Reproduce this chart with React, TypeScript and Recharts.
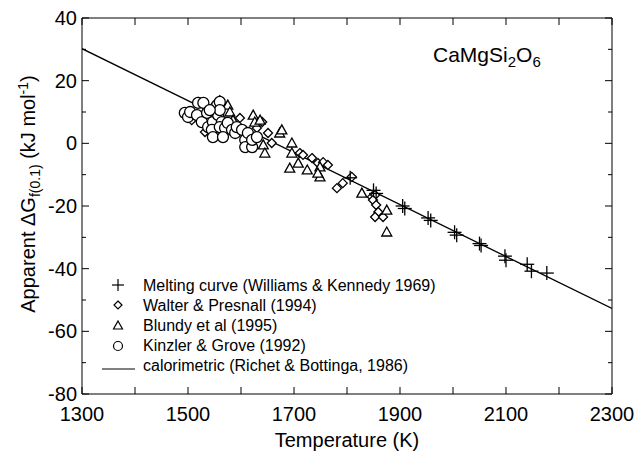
import React from 'react';
import { ScatterChart, Scatter, XAxis, YAxis, Legend, Customized } from 'recharts';

// [temperature K, apparent dG kJ/mol]
const meltingCurve = [
  [1806, -11], [1850, -15], [1855, -16], [1905, -20], [1909, -20.8],
  [1953, -23.8], [1958, -24.6], [2003, -28.4], [2007, -29.3], [2050, -32],
  [2053, -32.6], [2098, -36], [2100, -37.3], [2140, -38.6], [2148, -40.8], [2177, -41.4],
];

const walterPresnall = [
  [1519, 13.2], [1507, 7.4], [1532, 3.6], [1560, 13.8], [1547, 11.6], [1598, 8.1],
  [1630, 4.9], [1640, 6.8], [1651, 3.3], [1658, 0.1], [1711, -3.1], [1717, -3.7],
  [1734, -4.7], [1745, -6.3], [1755, -6], [1764, -6.9], [1781, -14.3], [1792, -12.7],
  [1809, -10.7], [1847, -17.1], [1853, -16.5], [1849, -18.1], [1855, -19.7],
  [1859, -21.9], [1853, -23.5], [1868, -23.5],
];

const blundy = [
  [1575, 12.2], [1579, 10], [1585, 7.4], [1623, 9], [1626, 6.8], [1636, 7.4],
  [1642, -0.5], [1645, -3.1], [1673, 3.3], [1677, 4.3], [1696, 0.1], [1696, -3.1],
  [1692, -7.9], [1708, -6.3], [1725, -8.5], [1749, -7.5], [1749, -10.7], [1745, -9.5],
  [1828, -15.9], [1875, -21.3], [1875, -28.3],
];

const kinzlerGrove = [
  [1494, 9.7], [1500, 8.4], [1504, 10], [1519, 12.9], [1529, 12.9], [1517, 9],
  [1526, 6.8], [1536, 9.7], [1538, 5.2], [1547, 6.8], [1545, 4.3], [1555, 12.2],
  [1560, 13.2], [1557, 9], [1564, 6.8], [1560, 5.2], [1570, 4.9], [1575, 6.5],
  [1583, 4.3], [1589, 3.3], [1547, 2], [1566, 2], [1592, 5.2], [1602, 4.3],
  [1608, 1.1], [1613, 3.3], [1608, -1.2], [1621, -1.2], [1621, 1.1], [1630, 2],
  [1560, 10.6], [1541, 10.6],
];

const calorimetric = [
  [1300, 30.2], [2300, -52.7],
];

const legendLabels = [
  'Melting curve (Williams & Kennedy 1969)',
  'Walter & Presnall (1994)',
  'Blundy et al (1995)',
  'Kinzler & Grove (1992)',
  'calorimetric (Richet & Bottinga, 1986)',
];

const xTicks = [1300, 1350, 1400, 1450, 1500, 1550, 1600, 1650, 1700, 1750, 1800, 1850, 1900, 1950, 2000, 2050, 2100, 2150, 2200, 2250, 2300];
const xLabelTicks = [1300, 1500, 1700, 1900, 2100, 2300];
const yTicks = [-80, -70, -60, -50, -40, -30, -20, -10, 0, 10, 20, 30, 40];
const yLabelTicks = [-80, -60, -40, -20, 0, 20, 40];

const FONT = '"Liberation Sans", Arial, Helvetica, sans-serif';

const toPoints = (rows: number[][]) => rows.map(([t, g]) => ({ t, g }));

const PlusShape = ({ cx, cy }: any) => (
  <g stroke="#000" strokeWidth={1.3}>
    <line x1={cx - 7} x2={cx + 7} y1={cy} y2={cy} />
    <line x1={cx} x2={cx} y1={cy - 7} y2={cy + 7} />
  </g>
);
const DiamondShape = ({ cx, cy }: any) => (
  <polygon points={`${cx},${cy - 4.5} ${cx + 4.5},${cy} ${cx},${cy + 4.5} ${cx - 4.5},${cy}`} fill="#fff" stroke="#000" strokeWidth={1.3} />
);
const TriangleShape = ({ cx, cy }: any) => (
  <polygon points={`${cx},${cy - 5} ${cx + 5},${cy + 4} ${cx - 5},${cy + 4}`} fill="#fff" stroke="#000" strokeWidth={1.3} />
);
const CircleShape = ({ cx, cy }: any) => (
  <circle cx={cx} cy={cy} r={5.5} fill="#fff" stroke="#000" strokeWidth={1.3} />
);
const NoShape = () => <g />;

const BottomTick = ({ x, y, payload }: any) => {
  const v = payload.value;
  const axisY = y - 13;
  const len = v % 100 === 0 ? 7 : 4;
  return (
    <g>
      <line x1={x} x2={x} y1={axisY} y2={axisY - len} stroke="#000" />
      {xLabelTicks.includes(v) && (
        <text x={x} y={y} dy="0.71em" textAnchor="middle" fontSize={20} fontFamily={FONT} fill="#000">{v}</text>
      )}
    </g>
  );
};
const TopTick = ({ x, y, payload }: any) => {
  const len = payload.value % 100 === 0 ? 7 : 4;
  return <line x1={x} x2={x} y1={y} y2={y + len} stroke="#000" />;
};
const LeftTick = ({ x, y, payload }: any) => {
  const v = payload.value;
  const axisX = x + 5;
  const len = v % 20 === 0 ? 7 : 4;
  return (
    <g>
      <line x1={axisX} x2={axisX + len} y1={y} y2={y} stroke="#000" />
      {yLabelTicks.includes(v) && (
        <text x={x} y={y} dy="0.355em" textAnchor="end" fontSize={20} fontFamily={FONT} fill="#000">{v}</text>
      )}
    </g>
  );
};
const RightTick = ({ x, y, payload }: any) => {
  const len = payload.value % 20 === 0 ? 7 : 4;
  return <line x1={x} x2={x - len} y1={y} y2={y} stroke="#000" />;
};

const legendMarkers = ['plus', 'diamond', 'triangle', 'circle', 'line'];

const LegendBox = () => (
  <svg width={360} height={100} style={{ display: 'block' }}>
    {legendLabels.map((label, i) => {
      const cy = 10 + i * 20;
      const m = legendMarkers[i];
      return (
        <g key={label}>
          {m === 'plus' && (
            <g stroke="#000" strokeWidth={1.2}>
              <line x1={17} x2={29} y1={cy} y2={cy} />
              <line x1={23} x2={23} y1={cy - 6} y2={cy + 6} />
            </g>
          )}
          {m === 'diamond' && <polygon points={`23,${cy - 4} 27,${cy} 23,${cy + 4} 19,${cy}`} fill="#fff" stroke="#000" strokeWidth={1.2} />}
          {m === 'triangle' && <polygon points={`23,${cy - 4} 27.5,${cy + 4} 18.5,${cy + 4}`} fill="#fff" stroke="#000" strokeWidth={1.2} />}
          {m === 'circle' && <circle cx={23} cy={cy + 1} r={4.5} fill="#fff" stroke="#000" strokeWidth={1.2} />}
          {m === 'line' && <line x1={7} x2={40} y1={cy + 4} y2={cy + 4} stroke="#000" />}
          <text x={48} y={cy} dy="0.355em" fontSize={16} fontFamily={FONT} fill="#000">{label}</text>
        </g>
      );
    })}
  </svg>
);

const Annotations = () => (
  <g fontFamily={FONT} fill="#000">
    <text x={433} y={62} fontSize={21}>
      CaMgSi<tspan fontSize={15} dy={5}>2</tspan><tspan dy={-5}>O</tspan><tspan fontSize={15} dy={5}>6</tspan>
    </text>
    <text x={347} y={447} fontSize={20} textAnchor="middle">Temperature (K)</text>
    <text x={0} y={0} transform="translate(35,194) rotate(-90)" fontSize={20} textAnchor="middle">
      Apparent ΔG<tspan fontSize={14} dy={5}>f(0.1)</tspan><tspan dy={-5}> (kJ mol</tspan><tspan fontSize={14} dy={-7}>-1</tspan><tspan dy={7}>)</tspan>
    </text>
  </g>
);

export default function App() {
  return (
    <div style={{ position: 'absolute', left: 0, top: 0 }}>
      <ScatterChart width={639} height={452} margin={{ top: 17, right: 26, bottom: 0, left: 0 }}>
        <XAxis xAxisId="top" orientation="top" type="number" dataKey="t" domain={[1300, 2300]} allowDataOverflow ticks={xTicks} height={1} tickSize={0} tickMargin={0} tick={TopTick} tickLine={false} stroke="#000" />
        <XAxis type="number" dataKey="t" domain={[1300, 2300]} allowDataOverflow ticks={xTicks} height={58} tickSize={0} tickMargin={13} tick={BottomTick} tickLine={false} stroke="#000" />
        <YAxis type="number" dataKey="g" domain={[-80, 40]} allowDataOverflow ticks={yTicks} width={82} tickSize={0} tickMargin={5} tick={LeftTick} tickLine={false} stroke="#000" />
        <YAxis yAxisId="right" orientation="right" type="number" dataKey="g" domain={[-80, 40]} allowDataOverflow ticks={yTicks} width={1} tickSize={0} tickMargin={0} tick={RightTick} tickLine={false} stroke="#000" />
        <Legend layout="vertical" align="center" verticalAlign="middle" content={LegendBox} wrapperStyle={{ left: 95, top: 275, width: 360 }} />
        <Scatter name="calorimetric" xAxisId="top" yAxisId="right" data={toPoints(calorimetric)} line={{ stroke: '#000', strokeWidth: 1.3 }} shape={NoShape} isAnimationActive={false} legendType="none" />
        <Scatter name="Walter & Presnall" data={toPoints(walterPresnall)} shape={DiamondShape} isAnimationActive={false} />
        <Scatter name="Blundy" data={toPoints(blundy)} shape={TriangleShape} isAnimationActive={false} />
        <Scatter name="Kinzler & Grove" data={toPoints(kinzlerGrove)} shape={CircleShape} isAnimationActive={false} />
        <Scatter name="Melting curve" data={toPoints(meltingCurve)} shape={PlusShape} isAnimationActive={false} />
        <Customized component={Annotations} />
      </ScatterChart>
    </div>
  );
}
